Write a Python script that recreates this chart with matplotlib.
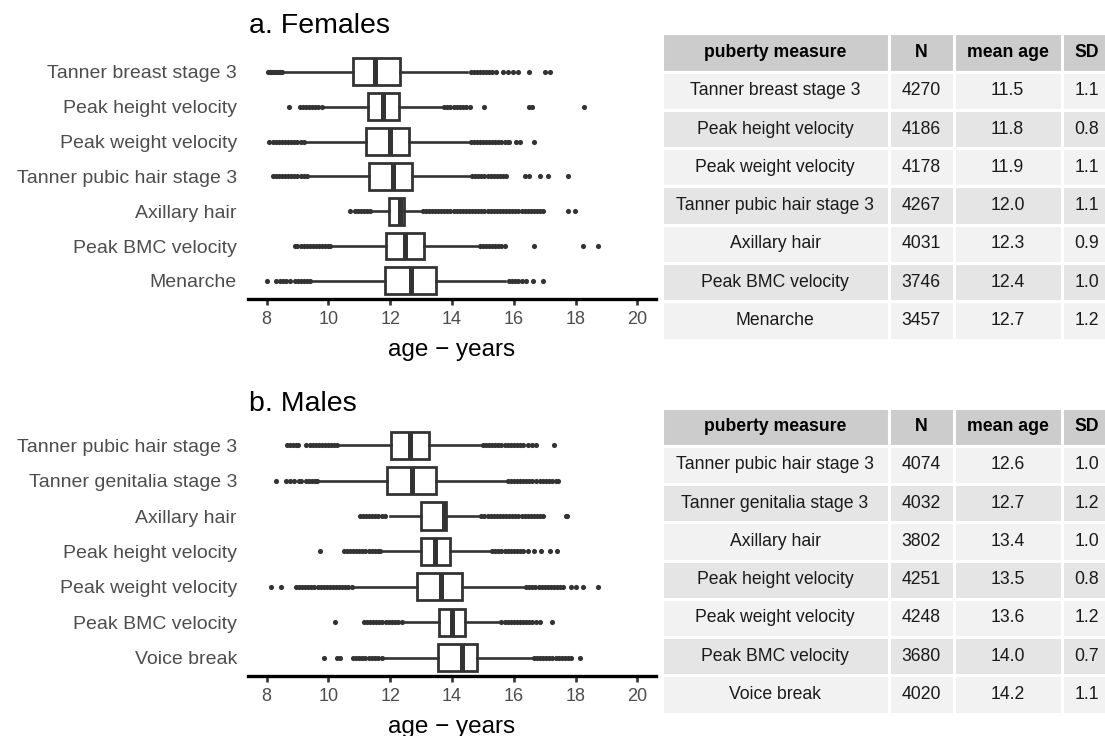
import matplotlib
matplotlib.use("Agg")
import matplotlib.pyplot as plt

plt.rcParams['font.family'] = ['Liberation Sans', 'DejaVu Sans']

# ---- females ----
f_labels = ["Tanner breast stage 3", "Peak height velocity", "Peak weight velocity",
            "Tanner pubic hair stage 3", "Axillary hair", "Peak BMC velocity", "Menarche"]
f_q1 = [10.80, 11.29, 11.21, 11.32, 11.97, 11.86, 11.83]
f_med = [11.50, 11.77, 11.99, 12.09, 12.31, 12.47, 12.66]
f_q3 = [12.31, 12.29, 12.61, 12.69, 12.45, 13.10, 13.47]
f_lo = [8.55, 9.83, 9.24, 9.35, 11.39, 10.10, 9.45]
f_hi = [14.50, 13.71, 14.57, 14.63, 13.00, 14.84, 15.70]
f_out = [
    [8.05, 8.1, 8.15, 8.2, 8.25, 8.3, 8.35, 8.4, 8.45, 8.5,
     14.6, 14.7, 14.8, 14.9, 15.0, 15.1, 15.2, 15.3, 15.43, 15.65, 15.81, 15.97, 16.14, 16.49, 17.0, 17.16],
    [8.73, 9.08, 9.18, 9.28, 9.38, 9.48, 9.58, 9.68, 9.78,
     13.75, 13.85, 13.95, 14.05, 14.15, 14.25, 14.35, 14.45, 14.57, 15.03, 16.5, 16.6, 18.26],
    [8.09, 8.2, 8.3, 8.4, 8.5, 8.6, 8.7, 8.8, 8.9, 9.0, 9.1, 9.2,
     14.6, 14.7, 14.8, 14.9, 15.0, 15.1, 15.2, 15.3, 15.4, 15.5, 15.6, 15.7, 15.8, 15.85, 16.06, 16.21, 16.65],
    [8.22, 8.3, 8.4, 8.5, 8.6, 8.7, 8.8, 8.9, 9.0, 9.1, 9.2, 9.3,
     14.65, 14.75, 14.85, 14.95, 15.05, 15.15, 15.25, 15.35, 15.45, 15.55, 15.65, 15.76, 16.35, 16.49, 16.84, 17.1, 17.75],
    [10.69, 10.85, 10.95, 11.05, 11.15, 11.25, 11.35,
     13.05, 13.15, 13.25, 13.35, 13.45, 13.55, 13.65, 13.75, 13.85, 13.95, 14.05, 14.15, 14.25, 14.35,
     14.45, 14.55, 14.65, 14.75, 14.85, 14.95, 15.05, 15.15, 15.25, 15.35, 15.45, 15.55, 15.65, 15.75,
     15.85, 15.95, 16.05, 16.15, 16.25, 16.35, 16.45, 16.55, 16.65, 16.75, 16.85, 16.94, 17.75, 17.97],
    [8.92, 9.0, 9.1, 9.2, 9.3, 9.4, 9.5, 9.6, 9.7, 9.8, 9.9, 10.0, 10.05,
     14.9, 15.0, 15.1, 15.2, 15.3, 15.4, 15.5, 15.6, 15.7, 16.65, 18.24, 18.72],
    [8.0, 8.32, 8.42, 8.52, 8.62, 8.75, 8.92, 9.02, 9.12, 9.22, 9.32, 9.4,
     15.85, 15.95, 16.05, 16.15, 16.25, 16.4, 16.62, 16.94],
]
f_n = [4270, 4186, 4178, 4267, 4031, 3746, 3457]
f_mean = [11.5, 11.8, 11.9, 12.0, 12.3, 12.4, 12.7]
f_sd = [1.1, 0.8, 1.1, 1.1, 0.9, 1.0, 1.2]

# ---- males ----
m_labels = ["Tanner pubic hair stage 3", "Tanner genitalia stage 3", "Axillary hair",
            "Peak height velocity", "Peak weight velocity", "Peak BMC velocity", "Voice break"]
m_q1 = [12.02, 11.91, 12.99, 13.01, 12.87, 13.57, 13.55]
m_med = [12.63, 12.72, 13.73, 13.44, 13.63, 14.01, 14.33]
m_q3 = [13.26, 13.47, 13.80, 13.95, 14.33, 14.41, 14.81]
m_lo = [10.32, 9.67, 11.99, 11.72, 10.80, 12.42, 11.77]
m_hi = [14.95, 15.76, 14.90, 15.27, 16.35, 15.54, 16.62]
m_out = [
    [8.65, 8.75, 8.85, 8.95, 9.02, 9.29, 9.39, 9.49, 9.59, 9.69, 9.79, 9.89, 9.99, 10.09, 10.19, 10.27,
     15.0, 15.1, 15.2, 15.3, 15.4, 15.5, 15.6, 15.7, 15.8, 15.9, 16.0, 16.1, 16.2, 16.3, 16.45, 16.6, 16.73, 17.29],
    [8.32, 8.63, 8.75, 8.9, 9.05, 9.13, 9.27, 9.37, 9.47, 9.57, 9.62,
     15.8, 15.9, 16.0, 16.1, 16.2, 16.3, 16.4, 16.5, 16.6, 16.72, 16.85, 16.95, 17.05, 17.15, 17.25, 17.35, 17.43],
    [11.02, 11.12, 11.22, 11.32, 11.42, 11.52, 11.62, 11.72, 11.83,
     14.95, 15.05, 15.15, 15.25, 15.35, 15.45, 15.55, 15.65, 15.75, 15.85, 15.95, 16.05, 16.15,
     16.25, 16.35, 16.45, 16.55, 16.65, 16.75, 16.85, 16.94, 17.68, 17.72],
    [9.72, 10.5, 10.6, 10.7, 10.8, 10.9, 11.0, 11.1, 11.2, 11.3, 11.4, 11.5, 11.6, 11.68,
     15.3, 15.4, 15.5, 15.6, 15.7, 15.8, 15.9, 16.0, 16.1, 16.2, 16.3, 16.46, 16.64, 16.89, 17.18, 17.4],
    [8.16, 8.48, 8.95, 9.05, 9.15, 9.25, 9.35, 9.45, 9.55, 9.65, 9.75, 9.85, 9.95, 10.05, 10.15,
     10.25, 10.35, 10.45, 10.55, 10.65, 10.75,
     16.4, 16.5, 16.6, 16.7, 16.8, 16.9, 17.0, 17.1, 17.2, 17.3, 17.4, 17.5, 17.59, 17.86, 18.02, 18.24, 18.72],
    [10.23, 11.15, 11.25, 11.35, 11.45, 11.55, 11.65, 11.75, 11.85, 11.95, 12.05, 12.15, 12.25, 12.38,
     15.6, 15.7, 15.8, 15.9, 16.0, 16.1, 16.2, 16.3, 16.4, 16.5, 16.6, 16.72, 16.84, 17.23],
    [9.85, 10.28, 10.37, 10.8, 10.9, 11.0, 11.1, 11.2, 11.3, 11.4, 11.5, 11.6, 11.72,
     16.65, 16.75, 16.85, 16.95, 17.05, 17.15, 17.25, 17.35, 17.45, 17.55, 17.65, 17.75, 17.86, 18.15],
]
m_n = [4074, 4032, 3802, 4251, 4248, 3680, 4020]
m_mean = [12.6, 12.7, 13.4, 13.5, 13.6, 14.0, 14.2]
m_sd = [1.0, 1.2, 1.0, 0.8, 1.2, 0.7, 1.1]

x_ticks = [8, 10, 12, 14, 16, 18, 20]
header = ["puberty measure", "N", "mean age", "SD"]

W, H = 1105, 736
fig = plt.figure(figsize=(W / 100, H / 100), dpi=100)
dark = "#333333"
grey = "#4D4D4D"


def px_axes(left, top, right, bottom):
    return fig.add_axes([left / W, 1 - bottom / H, (right - left) / W, (bottom - top) / H])


def draw_box(ax, labels, q1, med, q3, lo, hi, out):
    stats = []
    for i in range(len(labels)):
        stats.append(dict(med=med[i], q1=q1[i], q3=q3[i], whislo=lo[i], whishi=hi[i], fliers=out[i]))
    pos = list(range(1, len(labels) + 1))
    ax.bxp(stats, positions=pos, widths=0.77, orientation='horizontal', showcaps=False,
           patch_artist=True,
           boxprops=dict(facecolor='white', edgecolor=dark, linewidth=2.0),
           medianprops=dict(color=dark, linewidth=3.6, solid_capstyle='butt'),
           whiskerprops=dict(color=dark, linewidth=1.9),
           flierprops=dict(marker='o', markersize=3.7, markerfacecolor=dark,
                           markeredgecolor='none', linestyle='none'))
    ax.set_ylim(7.52, 0.4)
    ax.set_xlim(7.4, 20.6)
    ax.set_yticks(pos)
    ax.set_yticklabels(labels, fontsize=14, color=grey)
    ax.set_xticks(x_ticks)
    ax.set_xticklabels([str(t) for t in x_ticks], fontsize=13, color=grey)
    ax.tick_params(axis='y', length=0, pad=8)
    ax.tick_params(axis='x', length=4.5, width=1.9, color=dark, pad=4)
    for s in ['top', 'right', 'left']:
        ax.spines[s].set_visible(False)
    ax.spines['bottom'].set_linewidth(2.4)
    ax.spines['bottom'].set_color('black')
    ax.set_xlabel("age − years", fontsize=17.5, labelpad=8)
    ax.set_facecolor('white')


def draw_table(ax, labels, n, mean, sd):
    rows = [[labels[i], str(n[i]), f"{mean[i]:.1f}", f"{sd[i]:.1f}"] for i in range(len(labels))]
    ax.axis('off')
    tab = ax.table(cellText=rows, colLabels=header, cellLoc='center',
                   colWidths=[227, 65, 108, 50], bbox=[0, 0, 1, 1])
    tab.auto_set_font_size(False)
    tab.set_fontsize(12.7)
    for (r, c), cell in tab.get_celld().items():
        cell.set_edgecolor('white')
        cell.set_linewidth(2.2)
        if r == 0:
            cell.set_facecolor('#CCCCCC')
            cell.set_text_props(weight='bold', color='black')
        else:
            cell.set_facecolor('#F2F2F2' if r % 2 == 1 else '#E5E5E5')
            cell.set_text_props(color='#1A1A1A')
    tab.set_clip_on(False)


axf = px_axes(248, 51, 656, 299)
draw_box(axf, f_labels, f_q1, f_med, f_q3, f_lo, f_hi, f_out)
fig.text(249 / W, 1 - 33 / H, "a. Females", fontsize=20.5, va='baseline', ha='left')

axm = px_axes(248, 424, 656, 676)
draw_box(axm, m_labels, m_q1, m_med, m_q3, m_lo, m_hi, m_out)
fig.text(249 / W, 1 - 411 / H, "b. Males", fontsize=20.5, va='baseline', ha='left')

tf = px_axes(661.5, 33.5, 1111.5, 339.5)
draw_table(tf, f_labels, f_n, f_mean, f_sd)
tm = px_axes(661.5, 407.5, 1111.5, 713.5)
draw_table(tm, m_labels, m_n, m_mean, m_sd)

fig.savefig("out.png", dpi=100, facecolor='white')
